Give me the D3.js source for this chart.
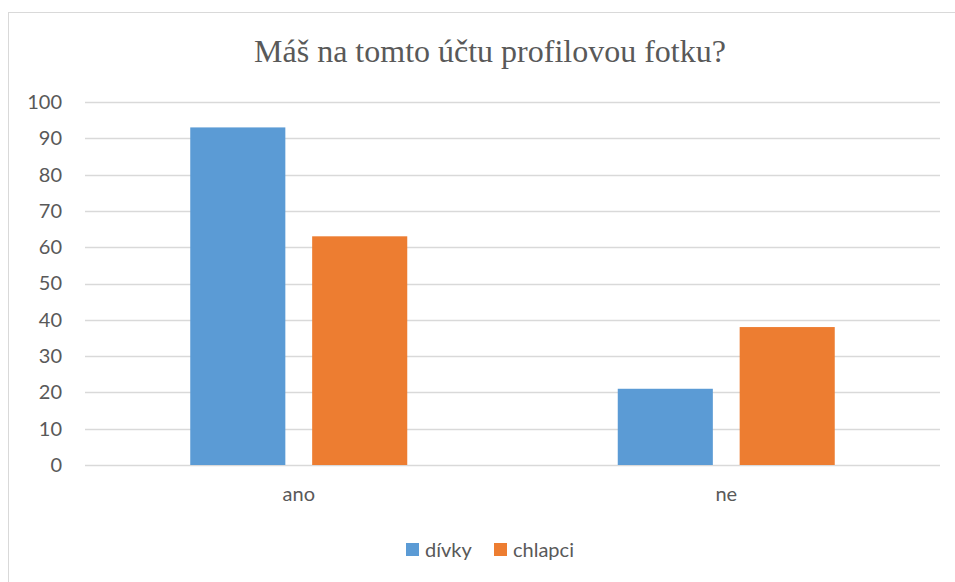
<!DOCTYPE html>
<html>
<head>
<meta charset="utf-8">
<script src="https://cdn.jsdelivr.net/npm/d3@7"></script>
<style>
	body { margin: 0; background: #fff; }
	.axis text { font-family: Lato, "Open Sans", sans-serif; fill: #595959; }
</style>
</head>
<body>
<div id="chart"></div>
<script>
const categories = ['ano', 'ne'];
const series     = ['dívky', 'chlapci'];
const divky      = [93, 21];
const chlapci    = [63, 38];
const yTicks     = [0, 10, 20, 30, 40, 50, 60, 70, 80, 90, 100];
const colors     = ['#5B9BD5', '#ED7D31'];

let full_width  = 955,
	full_height = 582,
	margin      = { top: 102, right: 15, bottom: 117, left: 85 },
	width       = full_width - margin.left - margin.right,
	height      = full_height - margin.top - margin.bottom;

let svg = d3.select('#chart')
	.append('svg')
	.attr('width', full_width)
	.attr('height', full_height);

// chart frame
svg.append('rect')
	.attr('x', 8.5).attr('y', 12.5)
	.attr('width', 960).attr('height', 600)
	.attr('fill', 'none')
	.attr('stroke', '#d9d9d9');

svg.append('text')
	.attr('x', 490)
	.attr('y', 62)
	.attr('text-anchor', 'middle')
	.style('font-family', '"Liberation Serif", "Times New Roman", serif')
	.style('font-size', '32px')
	.style('fill', '#595959')
	.text('Máš na tomto účtu profilovou fotku?');

let g = svg.append('g')
	.attr('transform', 'translate(' + margin.left + ',' + margin.top + ')');

let x0 = d3.scaleBand()
	.domain(categories)
	.range([0, width]);

let x1 = d3.scaleBand()
	.domain(series)
	.range([0, 217])
	.paddingInner(0.22);

let y = d3.scaleLinear()
	.domain([0, 100])
	.range([height, 0]);

// grid
g.append('g')
	.selectAll('line')
	.data(yTicks)
	.enter()
	.append('line')
	.attr('x1', 0).attr('x2', width)
	.attr('y1', d => Math.round(y(d)) + 0.5)
	.attr('y2', d => Math.round(y(d)) + 0.5)
	.attr('stroke', '#d9d9d9')
	.attr('stroke-width', 1.3);

let yAxis = d3.axisLeft(y)
	.tickValues(yTicks)
	.tickSize(0)
	.tickPadding(23);

g.append('g')
	.attr('class', 'axis axis--y')
	.call(yAxis)
	.call(a => a.select('.domain').remove())
	.selectAll('text')
	.style('font-size', '20px');

let values = [divky, chlapci];

let groups = g.selectAll('.cat')
	.data(categories)
	.enter()
	.append('g')
	.attr('class', 'cat')
	.attr('transform', d => 'translate(' + (x0(d) + x0.bandwidth() / 2 - 108.5) + ',0)');

groups.selectAll('rect')
	.data((c, ci) => series.map((s, si) => ({ s: s, v: values[si][ci], i: si })))
	.enter()
	.append('rect')
	.attr('x', d => x1(d.s))
	.attr('y', d => y(d.v))
	.attr('width', x1.bandwidth())
	.attr('height', d => height - y(d.v))
	.attr('fill', d => colors[d.i]);

let xAxis = d3.axisBottom(x0)
	.tickSize(0)
	.tickPadding(22);

g.append('g')
	.attr('class', 'axis axis--x')
	.attr('transform', 'translate(0,' + height + ')')
	.call(xAxis)
	.call(a => a.select('.domain').remove())
	.selectAll('text')
	.style('font-size', '20px');

// legend
let legendX = [406, 494];
let legend = svg.selectAll('.legend')
	.data(series)
	.enter()
	.append('g')
	.attr('class', 'legend')
	.attr('transform', (d, i) => 'translate(' + legendX[i] + ',543)');

legend.append('rect')
	.attr('width', 13).attr('height', 13)
	.attr('fill', (d, i) => colors[i]);

legend.append('text')
	.attr('x', 19)
	.attr('y', 13.5)
	.style('font-family', 'Lato, "Open Sans", sans-serif')
	.style('font-size', '20px')
	.style('fill', '#595959')
	.text(d => d);
</script>
</body>
</html>
